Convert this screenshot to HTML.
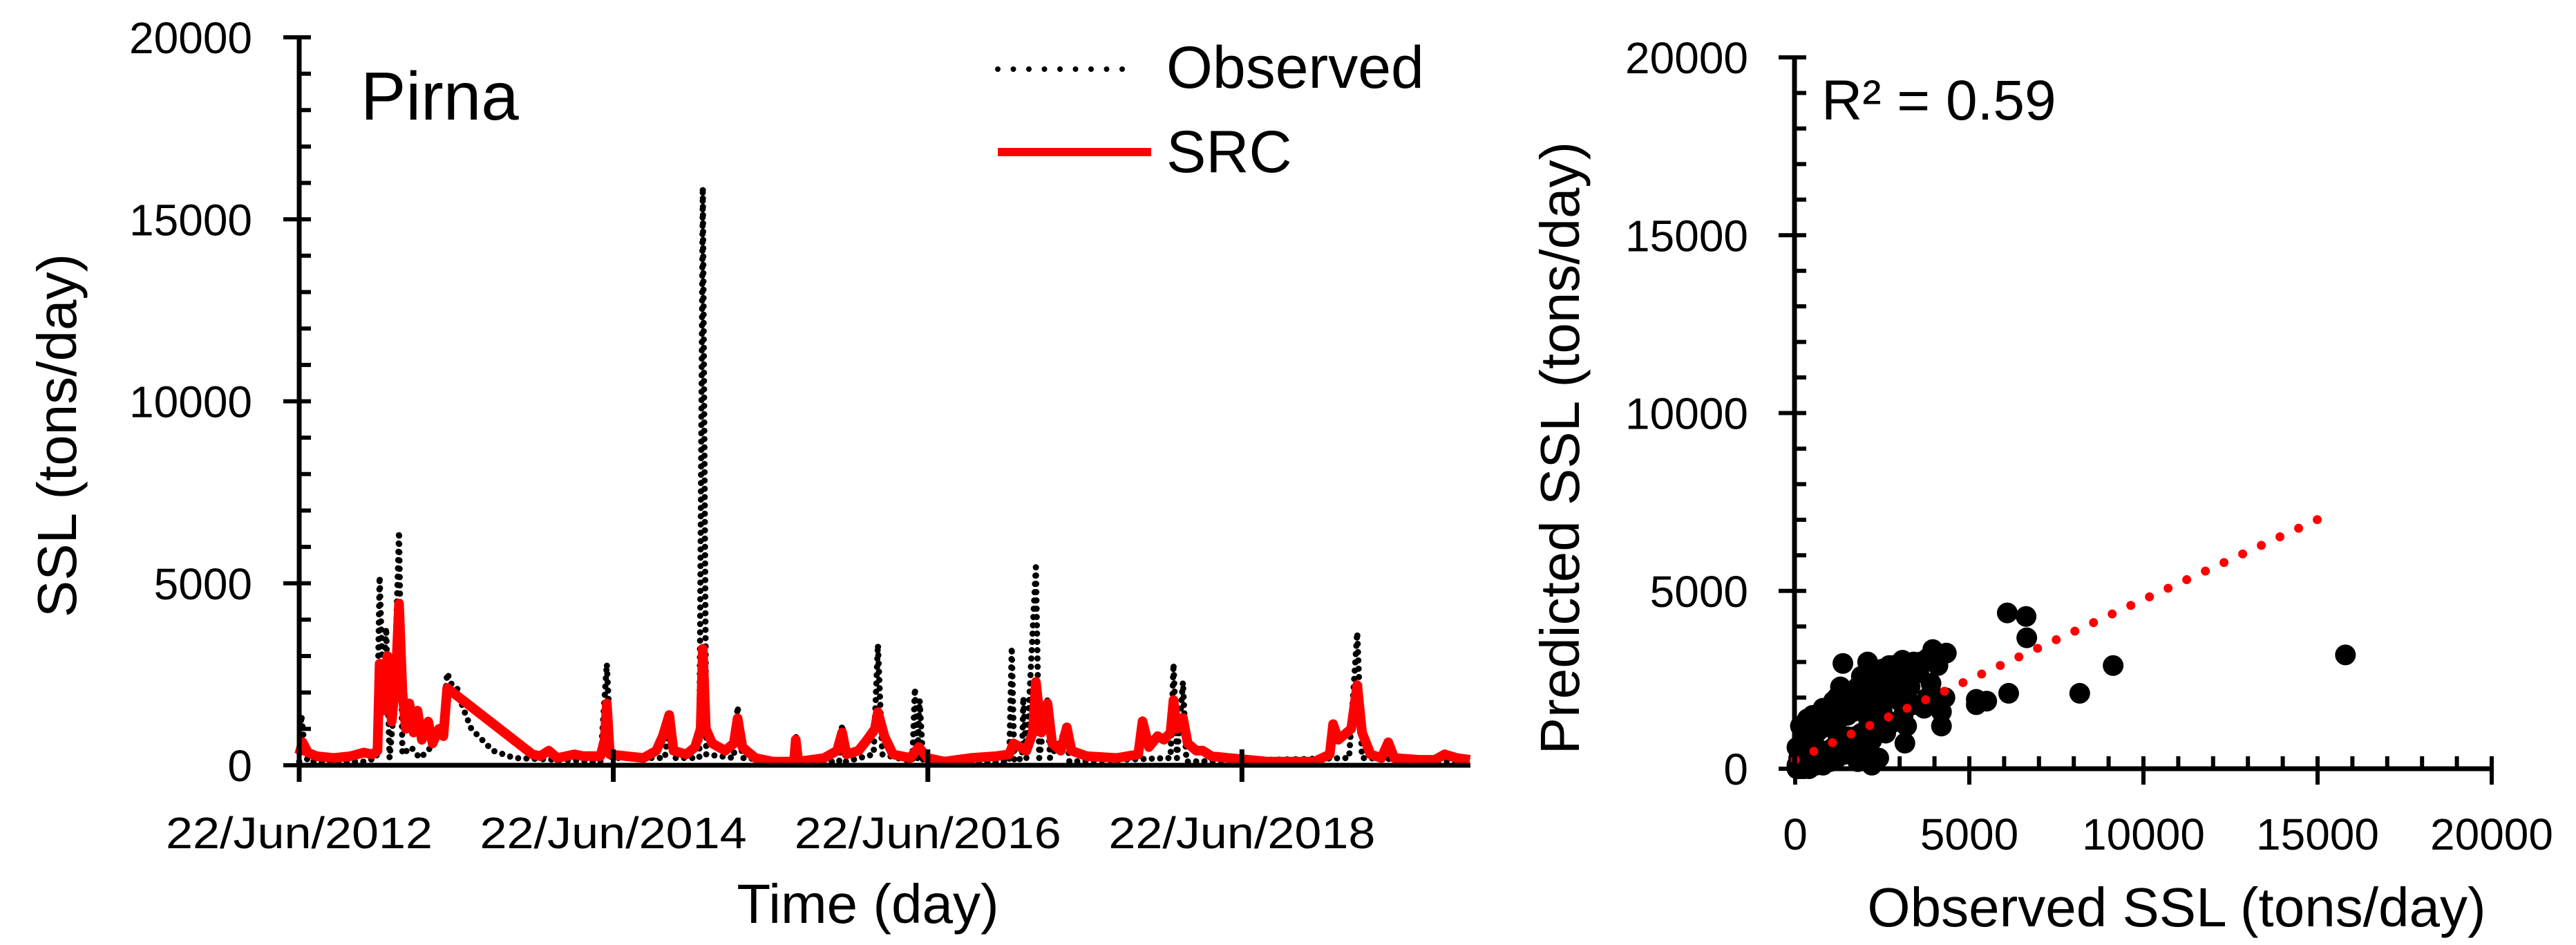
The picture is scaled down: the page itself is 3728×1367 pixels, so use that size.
<!DOCTYPE html>
<html><head><meta charset="utf-8"><title>Pirna SSL</title>
<style>
html,body{margin:0;padding:0;background:#fff;}
svg{display:block;}
text{font-family:"Liberation Sans",sans-serif;fill:#000;}
</style></head>
<body>
<svg id="fig" width="3728" height="1367" viewBox="0 0 3728 1367" xmlns="http://www.w3.org/2000/svg">
<g id="left"></g>
<g id="right"></g>
</svg>
<script>
// ---------- Time series data ----------
const tsDateLabels = ["22/Jun/2012","22/Jun/2014","22/Jun/2016","22/Jun/2018"];
const tsDateDays = [0, 730, 1461, 2191];
const yTicks = [0, 5000, 10000, 15000, 20000];
const srcDays = [0,8,20,40,80,120,150,170,182,187,195,205,215,225,232,240,248,256,266,275,285,300,310,325,335,344,542,560,580,600,640,660,700,710,715,722,760,800,830,845,860,870,900,920,933,938,945,960,990,1010,1019,1030,1060,1100,1150,1154,1160,1220,1250,1262,1272,1300,1320,1338,1345,1360,1380,1420,1440,1460,1500,1560,1620,1650,1660,1690,1705,1712,1725,1739,1750,1770,1784,1795,1830,1900,1950,1960,1975,1995,2010,2025,2032,2040,2054,2065,2085,2100,2120,2160,2250,2360,2395,2403,2415,2435,2445,2459,2470,2490,2515,2531,2545,2600,2640,2662,2690,2721];
const srcValues = [300,630,350,250,200,250,350,300,400,2790,1500,3000,1200,2500,4440,2000,1000,1700,900,1500,700,1200,600,1000,800,2120,300,250,400,200,300,250,250,700,1700,300,250,200,400,800,1380,400,300,500,1000,3200,1000,600,400,600,1290,500,200,100,100,700,100,200,400,900,300,400,700,1000,1460,800,300,200,500,200,100,200,250,300,600,400,900,2290,900,1700,600,400,1040,400,250,200,300,1210,500,800,700,900,1790,1000,1300,600,400,400,250,200,100,100,300,1130,700,900,1000,2200,900,300,200,630,200,150,150,300,200,150];
const obsDays = [0,5,13,20,150,180,187,195,202,210,220,232,240,260,280,300,320,335,344,355,367,380,400,450,500,700,715,725,850,862,870,930,938,946,1010,1019,1030,1150,1154,1160,1255,1262,1270,1335,1345,1355,1425,1431,1437,1442,1450,1650,1656,1662,1680,1683,1690,1712,1720,1739,1745,1784,1790,2025,2032,2040,2054,2062,2440,2459,2470,2721];
const obsValues = [100,1380,400,100,100,200,5190,2000,3780,200,1500,6430,300,500,200,400,800,1300,2540,2200,2120,1600,1000,400,200,100,2790,200,200,1460,200,200,15880,300,200,1620,200,100,880,100,100,1130,100,300,3320,300,100,2120,100,1790,100,100,3250,100,200,1870,200,5440,200,1790,200,1000,100,200,2790,200,2290,100,200,3650,200,100];

// ---------- Scatter data ----------
const scObserved = [6090,6630,6650,9130,8170,5200,6130,5200,4200,3150,3950,4340,1370,2080,3080,15800,5500,4300,4200,3900,3600,3300,3000,2700,2400,2200,2000,1800,1600,1400,1200,1000,800,600,400,200,100,50,300,500,700,900,1100,1300,1500,1700,1900,2100,2300,2500,2700,2900,3100,3300,3500,3700,2000,1500,1000,600,300,150,2600,2800,3200,3400,1200,1600,2400,900,400,250,3800,4100,2200,1800,1100,700,3000,2500,
 100,200,300,400,500,600,700,800,900,1000,1100,1200,1300,1400,1500,1600,1700,1800,1900,2000,2100,2200,2300,2400,2500,2600,2700,2800,3000,3200,3400,3600,3800,4000,
 150,350,550,750,950,1150,1350,1550,1750,1950,2150,2350,2550,2750,2950,3150,3350,3550,
 50,200,450,650,850,1050,1250,1450,1650,1850,2050,2250,2450,2650,
 100,300,500,700,900,1100,1300,1500,1700,1900,2100,2300,
 50,150,250,400,600,800,1000,1200,1400,1600,1800,2000,2200];
const scPredicted = [4380,4280,3680,2900,2120,1950,2120,1800,1200,720,3350,3250,2960,3000,3050,3200,1900,2000,1600,2400,2900,2600,1900,2800,2500,2200,1700,2300,2100,1800,2000,1500,1700,1400,1200,800,300,100,1000,1500,1300,1600,1900,2300,1500,2000,2600,1400,2400,1600,2700,2000,1500,2300,2700,1700,500,900,300,600,200,600,1000,1300,1200,1800,1000,700,300,400,700,1100,2000,2900,100,200,500,1100,2500,2800,
 200,400,600,800,900,1000,1100,1200,1300,1400,1500,1600,1700,1800,1900,2000,2100,2200,2300,2400,2500,2600,2600,2700,2800,2800,2900,2900,2900,2900,3000,3000,3100,3100,
 1200,1400,1500,1600,1700,1800,1900,2000,2100,2200,2300,2400,2500,2500,2600,2600,2700,2700,
 600,800,1000,1100,1200,1300,1400,1500,1600,1700,1800,1900,2000,2100,
 100,200,300,400,500,600,700,800,900,1000,1100,1200,
 0,0,0,0,100,100,200,300,400,500,600,700,800];
const trendX = [0, 15450];
const trendY = [250, 7210];
const scTicks = [0, 5000, 10000, 15000, 20000];

const NS = "http://www.w3.org/2000/svg";
function mk(parent, tag, attrs, txt){
  const e = document.createElementNS(NS, tag);
  for (const k in attrs) e.setAttribute(k, attrs[k]);
  if (txt !== undefined) e.textContent = txt;
  parent.appendChild(e);
  return e;
}

// ====== LEFT CHART ======
const L = document.getElementById('left');
const lx = d => 433 + d * 0.6227;
const ly = v => 1107 - v * (1053 / 20000);

let ptsO = obsDays.map((d,i)=>lx(d).toFixed(1)+","+ly(obsValues[i]).toFixed(1)).join(" ");
const obsLine = mk(L,'polyline',{points:ptsO,fill:'none',stroke:'#000','stroke-width':9,'stroke-dasharray':'0 12','stroke-linecap':'round'});


let ptsS = srcDays.map((d,i)=>lx(d).toFixed(1)+","+ly(srcValues[i]).toFixed(1)).join(" ");
const srcLine = mk(L,'polyline',{points:ptsS,fill:'none',stroke:'#ff0000','stroke-width':14,'stroke-linejoin':'round'});



const lyAxis = mk(L,'line',{x1:433,y1:54,x2:433,y2:1110,stroke:'#000','stroke-width':7});


const lxAxis = mk(L,'line',{x1:430,y1:1107,x2:2128,y2:1107,stroke:'#000','stroke-width':7});


for (let v=0; v<=20000; v+=1000){
  const major = v%5000===0;
  const t = mk(L,'line',{x1:major?410:433,y1:ly(v),x2:450,y2:ly(v),stroke:'#000','stroke-width':6});
  
  
}
yTicks.forEach(v=>{
  const t = mk(L,'text',{x:365,y:ly(v)+23,'text-anchor':'end','font-size':64},String(v));
  
  
});
tsDateDays.forEach((d,i)=>{
  const t = mk(L,'line',{x1:lx(d),y1:1084,x2:lx(d),y2:1131,stroke:'#000','stroke-width':7});
  
  
  const lb = mk(L,'text',{x:lx(d),y:1227,'text-anchor':'middle','font-size':64,textLength:386,lengthAdjust:'spacingAndGlyphs'},tsDateLabels[i]);
  
  
});
const lyt = mk(L,'text',{x:0,y:0,'text-anchor':'middle','font-size':80,transform:'translate(110,630) rotate(-90)'},'SSL (tons/day)');


const lxt = mk(L,'text',{x:1256,y:1335,'text-anchor':'middle','font-size':80},'Time (day)');


const pirna = mk(L,'text',{x:522,y:173,'font-size':98},'Pirna');


const lg1 = mk(L,'line',{x1:1444,y1:100,x2:1646,y2:100,stroke:'#000','stroke-width':8,'stroke-dasharray':'0 22.5','stroke-linecap':'round'});


const lg1t = mk(L,'text',{x:1688,y:127,'font-size':86},'Observed');


const lg2 = mk(L,'line',{x1:1444,y1:220,x2:1666,y2:220,stroke:'#ff0000','stroke-width':12});


const lg2t = mk(L,'text',{x:1688,y:249,'font-size':86},'SRC');



// ====== RIGHT CHART ======
const R = document.getElementById('right');
const sx = v => 2598 + v * (1008 / 20000);
const sy = v => 1112 - v * (1029 / 20000);

scObserved.forEach((o,i)=>{
  const c = mk(R,'circle',{cx:sx(o),cy:sy(scPredicted[i]),r:15,fill:'#000'});
  
  
});
const tl = mk(R,'line',{x1:sx(trendX[0]),y1:sy(trendY[0]),x2:sx(trendX[1]),y2:sy(trendY[1]),stroke:'#ff0000','stroke-width':13,'stroke-dasharray':'0 29.7','stroke-linecap':'round'});



const ryAxis = mk(R,'line',{x1:2597,y1:83,x2:2597,y2:1115,stroke:'#000','stroke-width':7});


const rxAxis = mk(R,'line',{x1:2594,y1:1112,x2:3608,y2:1112,stroke:'#000','stroke-width':7});


for (let v=0; v<=20000; v+=1000){
  const major = v%5000===0;
  const t = mk(R,'line',{x1:major?2574:2597,y1:sy(v),x2:2614,y2:sy(v),stroke:'#000','stroke-width':6});
  
  
  const t2 = mk(R,'line',{x1:sx(v),y1:1094,x2:sx(v),y2:major?1135:1112,stroke:'#000','stroke-width':6});
  
  
}
scTicks.forEach(v=>{
  const a = mk(R,'text',{x:2530,y:sy(v)+23,'text-anchor':'end','font-size':64},String(v));
  
  
  const b = mk(R,'text',{x:sx(v),y:1229,'text-anchor':'middle','font-size':64},String(v));
  
  
});
const ryt = mk(R,'text',{x:0,y:0,'text-anchor':'middle','font-size':80,transform:'translate(2285,648) rotate(-90)'},'Predicted SSL (tons/day)');


const rxt = mk(R,'text',{x:3150,y:1340,'text-anchor':'middle','font-size':80},'Observed SSL (tons/day)');


const r2 = mk(R,'text',{x:2636,y:173,'font-size':82},'R² = 0.59');


</script>
</body></html>
